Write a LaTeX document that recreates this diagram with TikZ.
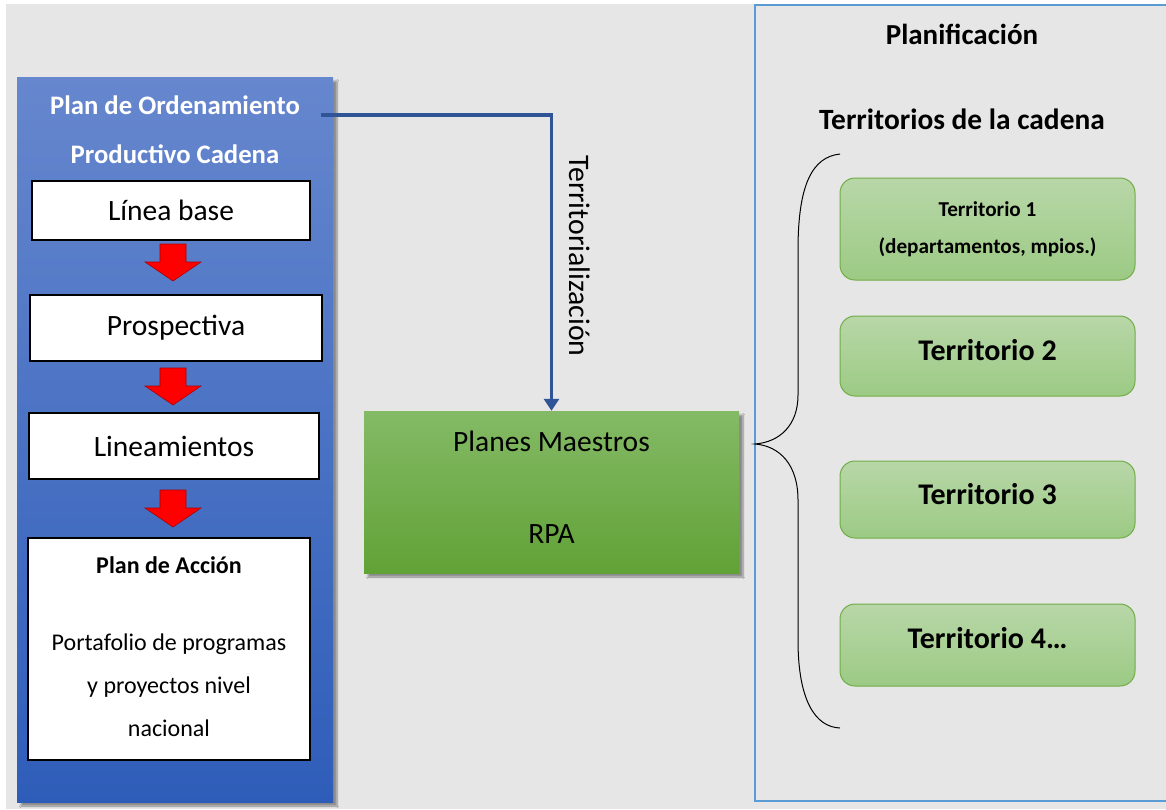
\documentclass[tikz,border=0pt]{standalone}
\usepackage{fontspec}
\setmainfont{Carlito}
\usetikzlibrary{arrows.meta,shadows.blur,calc}
\definecolor{bggray}{RGB}{230,230,230}
\definecolor{bluetop}{RGB}{102,135,206}
\definecolor{bluebot}{RGB}{46,93,185}
\definecolor{greentop}{RGB}{132,186,102}
\definecolor{greenbot}{RGB}{97,162,54}
\definecolor{terrtop}{RGB}{184,215,168}
\definecolor{terrbot}{RGB}{156,202,132}
\definecolor{terrline}{RGB}{112,173,71}
\definecolor{panelline}{RGB}{91,155,213}
\definecolor{connblue}{RGB}{47,85,151}
\definecolor{arrline}{RGB}{170,0,0}
\tikzset{
  whitebox/.style={draw=black, line width=2pt, fill=white, inner sep=0pt, align=center},
  redarr/.style={fill=red, draw=arrline, line width=0.6pt},
  terrbox/.style={draw=terrline, line width=1pt, rounded corners=15pt, top color=terrtop, bottom color=terrbot, minimum width=295pt, inner sep=0pt, align=center},
  terrtext/.style={font=\bfseries\fontsize{30}{34}\selectfont},
  regtext/.style={font=\fontsize{29.5}{34}\selectfont},
}
\newcommand\myredarrow[1]{\filldraw[redarr] (160,#1) -- (186,#1) -- (186,#1+18) -- (201,#1+18) -- (173,#1+37) -- (145,#1+18) -- (160,#1+18) -- cycle;}
\begin{document}
\begin{tikzpicture}[x=1pt,y=-1pt]
\useasboundingbox (0,0) rectangle (1166,809);
\fill[white] (0,0) rectangle (1166,809);
\fill[bggray] (6,4) rectangle (1166,809);
% right panel
\draw[panelline, line width=1.5pt] (1175,5) -- (755,5) -- (755,801) -- (1175,801);
% blue panel
\node[minimum width=316pt, minimum height=725pt, top color=bluetop, bottom color=bluebot, inner sep=0pt,
  blur shadow={shadow xshift=4pt, shadow yshift=-4pt, shadow blur steps=6, shadow opacity=40}] (panel) at (175,439.5) {};
\node[text=white, font=\bfseries\fontsize{26.7}{49}\selectfont, align=center] (title) at (175,129.5) {Plan de Ordenamiento\\Productivo Cadena};
\node[whitebox, minimum width=278pt, minimum height=59pt, regtext] (linea) at (171,210.5) {Línea base};
\node[whitebox, minimum width=292pt, minimum height=66pt, regtext] (prosp) at (176,328) {Prospectiva};
\node[whitebox, minimum width=290pt, minimum height=66pt, regtext] (linea2) at (174,446) {Lineamientos};
\node[whitebox, minimum width=282pt, minimum height=222pt] (accion) at (169,649) {};
\node[font=\bfseries\fontsize{24}{28}\selectfont] (acciont) at (169,565) {Plan de Acción};
\node[font=\fontsize{24}{43}\selectfont, align=center] (portaf) at (169,685) {Portafolio de programas\\y proyectos nivel\\nacional};
\myredarrow{244}
\myredarrow{368}
\myredarrow{490}
% green box
\node[minimum width=375pt, minimum height=162pt, top color=greentop, bottom color=greenbot, inner sep=0pt,
  blur shadow={shadow xshift=4pt, shadow yshift=-4pt, shadow blur steps=6, shadow opacity=40}] (green) at (551.5,492) {};
\node[regtext] (planes) at (551.5,441) {Planes Maestros};
\node[regtext] (rpa) at (551.5,534) {RPA};
% connector
\coordinate (cstart) at (321,115);
\draw[connblue, line width=3.5pt, -{Triangle[length=12pt,width=15pt]}] (cstart) -| (green.north);
\node[font=\fontsize{29.8}{34}\selectfont, rotate=-90] (terrlab) at (580,256) {Territorialización};
% right side
\node[font=\bfseries\fontsize{29}{33}\selectfont] (planif) at (962,34) {Planificación};
\node[font=\bfseries\fontsize{29.4}{33}\selectfont] (terrcad) at (962,119) {Territorios de la cadena};
\node[terrbox, minimum height=102pt, font=\bfseries\fontsize{21.2}{37}\selectfont] (t1) at (987.5,229) {Territorio 1\\(departamentos, mpios.)};
\node[terrbox, minimum height=80pt] (t2) at (987.5,356) {};
\node[terrtext] (t2t) at (987.5,350) {Territorio 2};
\node[terrbox, minimum height=77pt] (t3) at (987.5,499.5) {};
\node[terrtext] (t3t) at (987.5,494) {Territorio 3};
\node[terrbox, minimum height=82pt] (t4) at (987.5,645) {};
\node[terrtext] (t4t) at (987.5,638) {Territorio 4…};
% brace
\draw[black, line width=1pt] (840,154) .. controls (812,157) and (798,185) .. (798,250)
  -- (798,395) .. controls (798,425) and (780,442) .. (755,444)
  .. controls (780,446) and (798,465) .. (798,500)
  -- (798,640) .. controls (798,700) and (815,727) .. (840,728);
\end{tikzpicture}
\end{document}
